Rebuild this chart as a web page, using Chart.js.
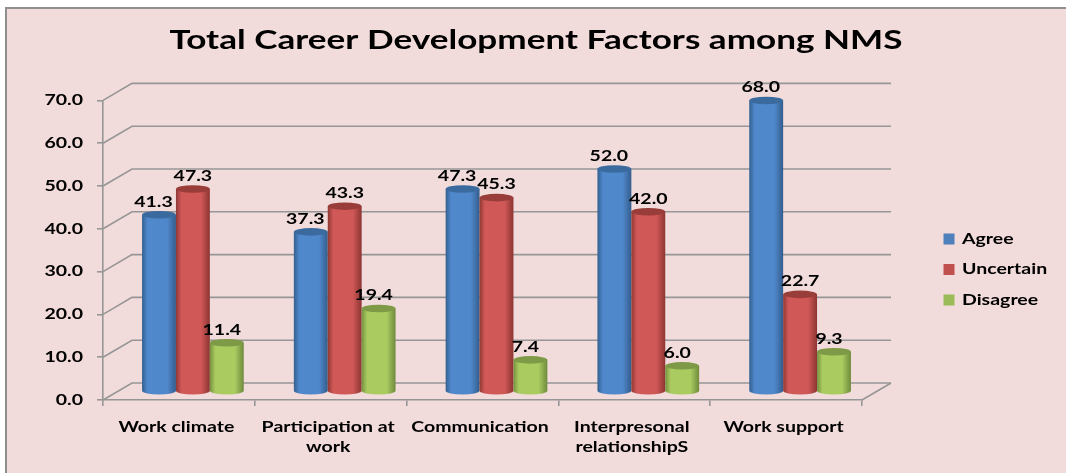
<!DOCTYPE html>
<html>
<head>
<meta charset="utf-8">
<title>Total Career Development Factors among NMS</title>
<script src="https://cdn.jsdelivr.net/npm/chart.js@4"></script>
<style>
  html, body { margin: 0; padding: 0; background: #fff; }
  #wrap { width: 1066px; height: 473px; }
</style>
</head>
<body>
<div id="wrap"><canvas id="myChart" width="1066" height="473"></canvas></div>
<script>
const categories = ['Work climate', ['Participation at', 'work'], 'Communication', ['Interpresonal', 'relationshipS'], 'Work support'];
const agree = [41.3, 37.3, 47.3, 52.0, 68.0];
const uncertain = [47.3, 43.3, 45.3, 42.0, 22.7];
const disagree = [11.4, 19.4, 7.4, 6.0, 9.3];

const labelFont = { family: 'Lato', weight: '700', size: 15, lineHeight: 1.33 };
const gridColor = '#969696';

// colours for the cylinders: left edge, middle, right edge, top
const shades = [
  ['#32608f', '#5088cc', '#335d8c', '#3b6a9e'],
  ['#8f3836', '#d05856', '#8c3533', '#993d3a'],
  ['#76913f', '#a9cb60', '#6f8a3c', '#7f9a47'],
];
const labelShift = [-5.5, 0, -5];

// the original picture was stretched sideways, so all text gets the same stretch
const canvas = document.getElementById('myChart');
const ctx = canvas.getContext('2d');
const plainFillText = ctx.fillText;
ctx.fillText = function (text, x, y, maxWidth) {
  this.save();
  this.translate(x, y);
  this.scale(1.3, 1);
  if (maxWidth === undefined) plainFillText.call(this, text, 0, 0);
  else plainFillText.call(this, text, 0, 0, maxWidth);
  this.restore();
};

// back wall and floor of the fake 3D box
const wallPlugin = {
  id: 'wall',
  beforeDraw(chart) {
    const c = chart.ctx;
    c.save();
    c.fillStyle = '#f2dcdb';
    c.fillRect(6, 8, 1060, 465);
    c.strokeStyle = '#8f8f8f';
    c.lineWidth = 2;
    c.beginPath();
    c.moveTo(6, 473); c.lineTo(6, 8); c.lineTo(1066, 8);
    c.stroke();
    c.restore();
  },
  beforeDatasetsDraw(chart) {
    const c = chart.ctx;
    const y = chart.scales.y;
    const { left, right } = chart.chartArea;
    c.save();
    c.strokeStyle = gridColor;
    c.lineWidth = 1.6;
    y.ticks.forEach((t) => {
      const py = y.getPixelForValue(t.value);
      c.beginPath();
      c.moveTo(left, py);
      c.lineTo(left + 29, py - 17);
      c.lineTo(right + 29, py - 17);
      c.stroke();
    });
    const py0 = y.getPixelForValue(0);
    c.beginPath();
    c.moveTo(right, py0);
    c.lineTo(right + 29, py0 - 17);
    c.stroke();
    c.restore();
  },
};

// draws each bar as a cylinder, then the value above it
const cylinderPlugin = {
  id: 'cylinder',
  beforeDatasetsDraw(chart) {
    const c = chart.ctx;
    const dx = 14, dy = -8.5, ry = 3.8;
    chart.data.datasets.forEach((ds, i) => {
      const s = shades[i];
      chart.getDatasetMeta(i).data.forEach((bar) => {
        const w = bar.width / 2;
        const x = bar.x + dx, top = bar.y + dy, base = bar.base + dy;
        const g = c.createLinearGradient(x - w, 0, x + w, 0);
        g.addColorStop(0, s[0]);
        g.addColorStop(0.16, s[1]);
        g.addColorStop(0.74, s[1]);
        g.addColorStop(1, s[2]);
        c.fillStyle = g;
        c.beginPath();
        c.moveTo(x - w, top);
        c.lineTo(x - w, base);
        c.ellipse(x, base, w, ry, 0, Math.PI, 0, true);
        c.lineTo(x + w, top);
        c.closePath();
        c.fill();
        c.fillStyle = s[3];
        c.beginPath();
        c.ellipse(x, top, w, ry, 0, 0, Math.PI * 2);
        c.fill();
      });
    });
    c.fillStyle = '#000';
    c.font = '700 15px Lato';
    c.textAlign = 'center';
    c.textBaseline = 'middle';
    chart.data.datasets.forEach((ds, i) => {
      chart.getDatasetMeta(i).data.forEach((bar, j) => {
        c.fillText(ds.data[j].toFixed(1), bar.x + dx + labelShift[i], bar.y + dy - 13);
      });
    });
    return false;
  },
};

// the legend sits lower than Chart.js would put it, and needs a fixed width
const legendPlugin = {
  id: 'legendPlace',
  beforeLayout(chart) {
    const l = chart.legend;
    if (!l.patched) {
      const fit = l.fit;
      l.fit = function () { fit.call(this); this.width = 204; };
      l.patched = true;
    }
  },
  afterLayout(chart) {
    const l = chart.legend;
    const h = l.height;
    l.left = 928;
    l.right = 1066;
    l.top = 216;
    l.bottom = 216 + h;
  },
};

new Chart(canvas, {
  type: 'bar',
  plugins: [wallPlugin, cylinderPlugin, legendPlugin],
  data: {
    labels: categories,
    datasets: [
      { label: 'Agree', data: agree, backgroundColor: '#4f81bd', categoryPercentage: 0.67, barPercentage: 1 },
      { label: 'Uncertain', data: uncertain, backgroundColor: '#c0504d', categoryPercentage: 0.67, barPercentage: 1 },
      { label: 'Disagree', data: disagree, backgroundColor: '#9bbb59', categoryPercentage: 0.67, barPercentage: 1 },
    ],
  },
  options: {
    responsive: false,
    animation: false,
    layout: { padding: { left: 6, right: 0, top: 0, bottom: 0 } },
    plugins: {
      title: {
        display: true,
        text: 'Total Career Development Factors among NMS',
        color: '#000',
        font: { family: 'Lato', weight: '700', size: 27 },
        padding: { top: 24, bottom: 44 },
      },
      legend: {
        position: 'right',
        align: 'start',
        labels: {
          color: '#000',
          boxWidth: 11,
          boxHeight: 11,
          padding: 15.5,
          font: labelFont,
        },
      },
      tooltip: { enabled: false },
    },
    scales: {
      x: {
        grid: { drawOnChartArea: false, color: gridColor, tickLength: 6, lineWidth: 1.6 },
        border: { color: gridColor, width: 1.6 },
        ticks: { color: '#000', maxRotation: 0, autoSkip: false, padding: 11, labelOffset: -2.5, font: labelFont },
        afterFit(scale) { scale.height = 73; },
      },
      y: {
        min: 0,
        max: 70,
        grid: { drawOnChartArea: false, color: gridColor, tickLength: 6, lineWidth: 1.6 },
        border: { color: gridColor, width: 1.6 },
        ticks: {
          stepSize: 10,
          color: '#000',
          padding: 14,
          font: labelFont,
          callback: (v) => v.toFixed(1),
        },
        afterFit(scale) { scale.width = 97; },
      },
    },
  },
});
</script>
</body>
</html>
